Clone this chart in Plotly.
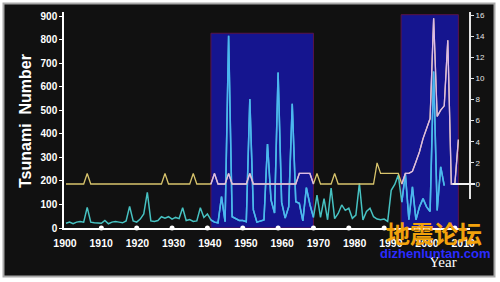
import plotly.graph_objects as go

# ---------------- data ----------------
main_years = list(range(1900, 2008))
tsunami_counts = [
    20, 25, 18, 25, 28, 25, 88, 25, 22, 22,      # 1900-1909
    20, 32, 18, 25, 28, 25, 22, 30, 92, 30,      # 1910-1919
    25, 38, 60, 152, 30, 28, 32, 48, 42, 48,     # 1920-1929
    38, 45, 40, 86, 32, 36, 28, 30, 86, 45,      # 1930-1939
    60, 34, 25, 22, 133, 27, 817, 48, 40, 32,    # 1940-1949
    32, 27, 548, 77, 25, 30, 34, 357, 119, 64,   # 1950-1959
    661, 110, 42, 90, 528, 112, 105, 30, 172, 100,  # 1960-1969
    45, 140, 45, 125, 35, 170, 40, 62, 98, 75,   # 1970-1979
    84, 41, 55, 190, 34, 70, 84, 48, 38, 35,     # 1980-1989
    38, 28, 160, 185, 225, 110, 230, 35, 175, 35,  # 1990-1999
    90, 125, 90, 70, 665, 75, 260, 180,          # 2000-2007
]

second_years = list(range(1900, 2012))
second_values = [
    0, 0, 0, 0, 0, 0, 1, 0, 0, 0,                # 1900-1909
    0, 0, 0, 0, 0, 0, 0, 0, 0, 0,                # 1910-1919
    0, 0, 0, 0, 0, 0, 0, 0, 1, 0,                # 1920-1929
    0, 0, 0, 0, 0, 0, 1, 0, 0, 0,                # 1930-1939
    0, 0, 1, 0, 0, 0, 1, 0, 0, 0,                # 1940-1949
    0, 0, 1, 0, 0, 0, 0, 0, 0, 0,                # 1950-1959
    0, 0, 0, 0, 0, 0, 1, 1, 1, 1,                # 1960-1969
    0, 1, 0, 0, 0, 0, 1, 0, 0, 0,                # 1970-1979
    0, 0, 0, 0, 0, 0, 0, 0, 2, 1,                # 1980-1989
    1, 1, 1, 1, 1, 0, 1, 1, 1.2, 2.1,            # 1990-1999
    3.05, 4.3, 5.3, 6.2, 15.7, 6.4, 7.0, 7.4, 13.6, 0,  # 2000-2009
    0, 4.2,                                      # 2010-2011
]

highlight_start = [1941, 1994.8]
highlight_end = [1970, 2011]
highlight_top = [828, 907]

left_ticks = list(range(0, 1000, 100))
right_ticks = list(range(0, 18, 2))
decade_labels = list(range(1900, 2020, 10))
tick_dot_years = list(range(1910, 2020, 10))

# ---------------- colours / styles ----------------
BG = "#111111"
TEAL = "#47c2c2"
SKY = "#4cb6f2"
GOLD = "#d8c46c"
LAVENDER = "#dcbaec"
RECT_FILL = "#15158f"
RECT_LINE = "#5a1448"


def inside(years, values, lo, hi):
    xs, ys = [], []
    for yr, v in zip(years, values):
        if lo <= yr <= hi:
            xs.append(yr)
            ys.append(v)
    return xs, ys


fig = go.Figure()

# main series (left axis)
fig.add_trace(go.Scatter(x=main_years, y=tsunami_counts, mode="lines",
                         line=dict(color=TEAL, width=1.5), hoverinfo="skip",
                         showlegend=False))
for lo, hi in zip(highlight_start, highlight_end):
    xs, ys = inside(main_years, tsunami_counts, lo, hi)
    fig.add_trace(go.Scatter(x=xs, y=ys, mode="lines",
                             line=dict(color=SKY, width=1.5), hoverinfo="skip",
                             showlegend=False))

# secondary series (right axis)
fig.add_trace(go.Scatter(x=second_years, y=second_values, mode="lines", yaxis="y2",
                         line=dict(color=GOLD, width=1.3), hoverinfo="skip",
                         showlegend=False))
for lo, hi in zip(highlight_start, highlight_end):
    xs, ys = inside(second_years, second_values, lo, hi)
    fig.add_trace(go.Scatter(x=xs, y=ys, mode="lines", yaxis="y2",
                             line=dict(color=LAVENDER, width=1.3), hoverinfo="skip",
                             showlegend=False))

# decade dots on the x axis
fig.add_trace(go.Scatter(x=tick_dot_years, y=[0] * len(tick_dot_years), mode="markers",
                         marker=dict(color="white", size=5), cliponaxis=False,
                         hoverinfo="skip", showlegend=False))

# carrier for the label axis
fig.add_trace(go.Scatter(x=[decade_labels[0]], y=[None], xaxis="x2", mode="lines",
                         hoverinfo="skip", showlegend=False))

shapes = []
# outer frame
shapes.append(dict(type="rect", xref="paper", yref="paper",
                   x0=(3.5 - 64) / 406, x1=(494.5 - 64) / 406,
                   y0=(228 - 276.5) / 216, y1=(228 - 3.5) / 216,
                   fillcolor=BG, line=dict(color="#a8a8a8", width=2), layer="below"))
# highlighted periods
for lo, hi, top in zip(highlight_start, highlight_end, highlight_top):
    shapes.append(dict(type="rect", xref="x", yref="y", x0=lo, x1=hi, y0=0, y1=top,
                       fillcolor=RECT_FILL, line=dict(color=RECT_LINE, width=1),
                       layer="below"))
# right axis line (partial height)
shapes.append(dict(type="line", xref="paper", yref="y2", x0=1, x1=1,
                   y0=-1.42, y1=16.28, line=dict(color="#e4e4e4", width=2)))
# white zero reference near the right axis
shapes.append(dict(type="line", xref="paper", yref="y2", x0=(452.7 - 64) / 406,
                   x1=(475 - 64) / 406, y0=0, y1=0,
                   line=dict(color="#f0f0f0", width=2)))

annotations = [
    dict(text="Tsunami  Number", xref="paper", yref="paper",
         x=(25 - 64) / 406, y=(228 - 121) / 216, textangle=-90, showarrow=False,
         xanchor="center", yanchor="middle",
         font=dict(family="Arial, Liberation Sans", size=16, color="white", weight="bold")),
    dict(text="Year", xref="paper", yref="paper",
         x=(443 - 64) / 406, y=(228 - 262) / 216, showarrow=False,
         xanchor="center", yanchor="middle",
         font=dict(family="Liberation Serif, Times New Roman", size=15, color="white")),
    dict(text="地震论坛", xref="paper", yref="paper",
         x=(434 - 64) / 406, y=(228 - 232) / 216, showarrow=False,
         xanchor="center", yanchor="middle",
         font=dict(family="Noto Sans CJK SC", size=24, color="#f2a20c", weight="bold")),
    dict(text="dizhenluntan.com", xref="paper", yref="paper",
         x=(435 - 64) / 406, y=(228 - 253.5) / 216, showarrow=False,
         xanchor="center", yanchor="middle",
         font=dict(family="Arial, Liberation Sans", size=13, color="#2b2bff", weight="bold")),
]

fig.update_layout(
    width=500, height=282,
    margin=dict(l=64, r=30, t=12, b=54, pad=0),
    paper_bgcolor="white", plot_bgcolor=BG,
    showlegend=False,
    shapes=shapes, annotations=annotations,
    xaxis=dict(range=[1899.434, 2014.286], showline=True, linecolor="white",
               linewidth=2, showgrid=False, zeroline=False, showticklabels=False,
               ticks=""),
    xaxis2=dict(overlaying="x", anchor="y", side="bottom",
                range=[1899.724, 2011.878], tickvals=decade_labels,
                ticktext=[str(v) for v in decade_labels],
                ticks="outside", ticklen=5, tickcolor="rgba(0,0,0,0)",
                showline=False, showgrid=False, zeroline=False,
                tickfont=dict(family="Arial, Liberation Sans", size=10.5,
                              color="white", weight="bold")),
    yaxis=dict(range=[0, 918.4], tickvals=left_ticks, ticks="outside", ticklen=3,
               tickcolor="white", tickwidth=1, showline=True, linecolor="white",
               linewidth=1.5, showgrid=False, zeroline=False,
               tickfont=dict(family="Arial, Liberation Sans", size=10,
                             color="white", weight="bold")),
    yaxis2=dict(overlaying="y", side="right", anchor="x", range=[-4.166, 16.284],
                tickvals=right_ticks, ticks="outside", ticklen=3, tickcolor="#e4e4e4",
                showline=False, showgrid=False, zeroline=False,
                tickfont=dict(family="Arial, Liberation Sans", size=8, color="#e4e4e4")),
)

fig.write_html("out.html")
